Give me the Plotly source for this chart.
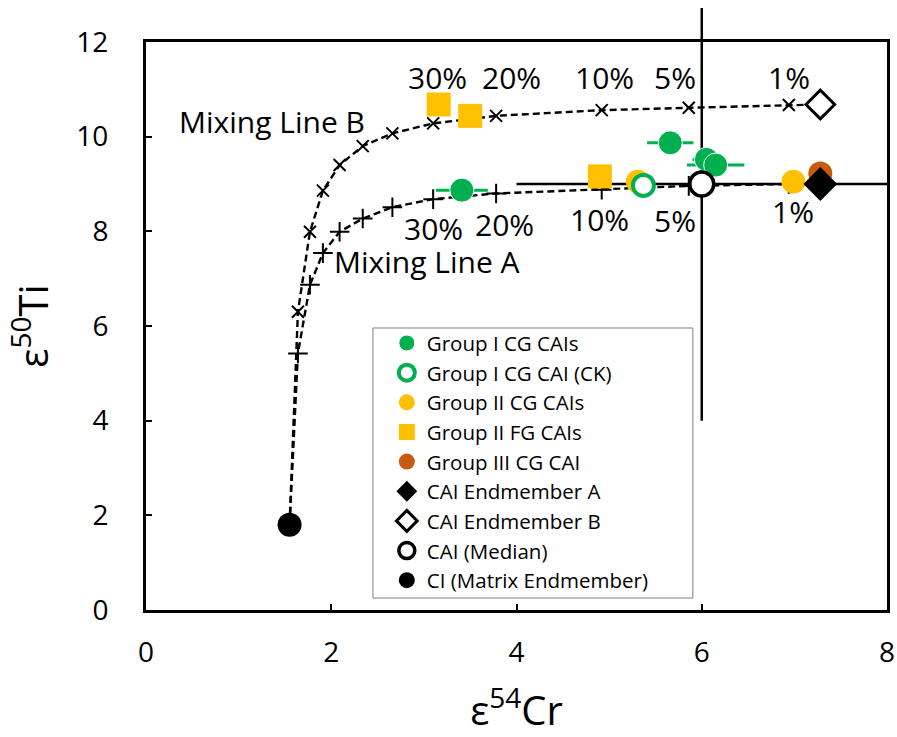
import plotly.graph_objects as go

FONT = "Open Sans"

# Mixing model points (CI endmember, then 30%..1%, then CAI endmember)
mix_x = [1.55, 1.64, 1.77, 1.91, 2.09, 2.34, 2.66, 3.10, 3.78, 4.92, 5.86, 6.94, 7.28]
mixA_y = [1.80, 5.42, 6.87, 7.54, 7.99, 8.27, 8.51, 8.68, 8.80, 8.88, 8.96, 9.00, 9.01]
mixB_y = [1.80, 6.30, 7.99, 8.86, 9.40, 9.80, 10.07, 10.28, 10.44, 10.56, 10.61, 10.67, 10.68]

g1_x = [3.41, 5.66, 6.05, 6.15]
g1_y = [8.87, 9.87, 9.52, 9.40]
g1_xerr = [0.28, 0.25, 0.15, 0.31]

g1ck_x = [5.37]
g1ck_y = [8.97]

g2cg_x = [5.31, 6.99]
g2cg_y = [9.05, 9.05]

g2fg_x = [3.16, 3.50, 4.90]
g2fg_y = [10.68, 10.44, 9.16]

g3_x = [7.28]
g3_y = [9.22]

endA_x, endA_y = [7.28], [9.00]
endB_x, endB_y = [7.28], [10.68]
median_x, median_y = [6.0], [9.0]
median_xerr = [2.0]
median_yerr_plus, median_yerr_minus = [3.72], [5.0]
ci_x, ci_y = [1.55], [1.80]

labB_text = ["30%", "20%", "10%", "5%", "1%"]
labB_x = [3.15, 3.95, 4.95, 5.71, 6.94]
labB_y = [11.26, 11.26, 11.26, 11.26, 11.26]
labA_text = ["30%", "20%", "10%", "5%", "1%"]
labA_x = [3.10, 3.87, 4.90, 5.71, 6.98]
labA_y = [8.07, 8.15, 8.24, 8.22, 8.41]

X_RANGE = [0, 8]
Y_RANGE = [0, 12]

GREEN = "#00B050"
YELLOW = "#FFC000"
BROWN = "#C55A11"

fig = go.Figure()

# Median horizontal error bar (beneath everything)
fig.add_trace(go.Scatter(
    x=median_x, y=median_y, mode="markers",
    marker=dict(size=1, color="rgba(0,0,0,0)"),
    error_x=dict(type="data", array=median_xerr, color="black", thickness=2.5, width=0),
    showlegend=False, hoverinfo="skip"))

# Mixing lines
fig.add_trace(go.Scatter(
    x=mix_x, y=mixA_y, mode="lines+markers",
    line=dict(color="black", width=2.4, dash="7px,4px"),
    marker=dict(symbol="cross-thin", size=14, line=dict(color="black", width=2)),
    showlegend=False))
fig.add_trace(go.Scatter(
    x=mix_x, y=mixB_y, mode="lines+markers",
    line=dict(color="black", width=2.4, dash="7px,4px"),
    marker=dict(symbol="x-thin", size=12, line=dict(color="black", width=2)),
    showlegend=False))

MS = 24
fig.add_trace(go.Scatter(
    x=g1_x, y=g1_y, mode="markers", name="Group I CG CAIs", legendrank=1,
    marker=dict(symbol="circle", size=MS, color=GREEN, line=dict(width=1, color="white")),
    error_x=dict(type="data", array=g1_xerr, color=GREEN, thickness=3, width=0)))
fig.add_trace(go.Scatter(
    x=g2cg_x, y=g2cg_y, mode="markers", name="Group II CG CAIs", legendrank=3,
    marker=dict(symbol="circle", size=MS, color=YELLOW)))
fig.add_trace(go.Scatter(
    x=g1ck_x, y=g1ck_y, mode="markers", name="Group I CG CAI (CK)", legendrank=2,
    marker=dict(symbol="circle", size=MS - 3, color="white", line=dict(width=4, color=GREEN))))
fig.add_trace(go.Scatter(
    x=g2fg_x, y=g2fg_y, mode="markers", name="Group II FG CAIs", legendrank=4,
    marker=dict(symbol="square", size=MS, color=YELLOW)))
fig.add_trace(go.Scatter(
    x=g3_x, y=g3_y, mode="markers", name="Group III CG CAI", legendrank=5,
    marker=dict(symbol="circle", size=MS, color=BROWN)))
fig.add_trace(go.Scatter(
    x=endA_x, y=endA_y, mode="markers", name="CAI Endmember A", legendrank=6,
    marker=dict(symbol="diamond", size=MS + 2, color="black")))
fig.add_trace(go.Scatter(
    x=endB_x, y=endB_y, mode="markers", name="CAI Endmember B", legendrank=7,
    marker=dict(symbol="diamond", size=MS - 2, color="white", line=dict(width=3, color="black"))))
fig.add_trace(go.Scatter(
    x=median_x, y=median_y, mode="markers", name="CAI (Median)", legendrank=8,
    marker=dict(symbol="circle", size=MS, color="white", line=dict(width=3.5, color="black"))))
fig.add_trace(go.Scatter(
    x=ci_x, y=ci_y, mode="markers", name="CI (Matrix Endmember)", legendrank=9,
    marker=dict(symbol="circle", size=MS, color="black")))


def to_paper_y(v):
    return (v - Y_RANGE[0]) / (Y_RANGE[1] - Y_RANGE[0])


shapes = [
    # vertical (asymmetric) error bar of the median, allowed to run above the frame
    dict(type="line", xref="x", yref="paper", layer="below",
         x0=median_x[0], x1=median_x[0],
         y0=to_paper_y(median_y[0] - median_yerr_minus[0]),
         y1=to_paper_y(median_y[0] + median_yerr_plus[0]),
         line=dict(color="black", width=2.5)),
    # legend frame
    dict(type="rect", xref="paper", yref="paper", layer="above",
         x0=0.3063, x1=0.738, y0=0.0211, y1=0.4965,
         fillcolor="white", line=dict(color="#7f7f7f", width=1)),
]

AF = 30
ann = []
for t, x, y in zip(labB_text, labB_x, labB_y):
    ann.append(dict(x=x, y=y, xref="x", yref="y", text=t, showarrow=False,
                    font=dict(size=AF, color="black", family=FONT)))
for t, x, y in zip(labA_text, labA_x, labA_y):
    ann.append(dict(x=x, y=y, xref="x", yref="y", text=t, showarrow=False,
                    font=dict(size=AF, color="black", family=FONT)))
ann.append(dict(x=1.355, y=10.32, xref="x", yref="y", text="Mixing Line B", showarrow=False,
                font=dict(size=AF, color="black", family=FONT)))
ann.append(dict(x=2.01, y=7.36, xref="x", yref="y", text="Mixing Line A", showarrow=False,
                xanchor="left", font=dict(size=AF, color="black", family=FONT)))

axis_common = dict(showline=True, linecolor="black", linewidth=3, mirror=True,
                   ticks="inside", ticklen=6, tickwidth=2, tickcolor="black",
                   showgrid=False, zeroline=False, automargin=False,
                   ticklabeloverflow="allow",
                   tickfont=dict(size=28, color="black", family=FONT))

fig.update_layout(
    width=897, height=737,
    margin=dict(l=146, r=10, t=42, b=127),
    paper_bgcolor="white", plot_bgcolor="white",
    font=dict(family=FONT, color="black"),
    xaxis=dict(range=X_RANGE, dtick=2, ticklabelstandoff=15,
               title=dict(text="ε<sup>54</sup>Cr", font=dict(size=40, family=FONT), standoff=30),
               **axis_common),
    yaxis=dict(range=Y_RANGE, dtick=2, ticklabelstandoff=29,
               title=dict(text="ε<sup>50</sup>Ti", font=dict(size=40, family=FONT), standoff=16),
               **axis_common),
    legend=dict(x=0.325, y=0.505, xanchor="left", yanchor="top",
                bgcolor="rgba(0,0,0,0)", borderwidth=0,
                font=dict(size=20.5, family=FONT, color="black"),
                traceorder="normal"),
    annotations=ann,
    shapes=shapes,
    showlegend=True,
)

fig.write_html(
    "out.html",
    config={"displayModeBar": False},
    post_script="document.body.style.margin='0';document.body.style.overflow='hidden';",
)
